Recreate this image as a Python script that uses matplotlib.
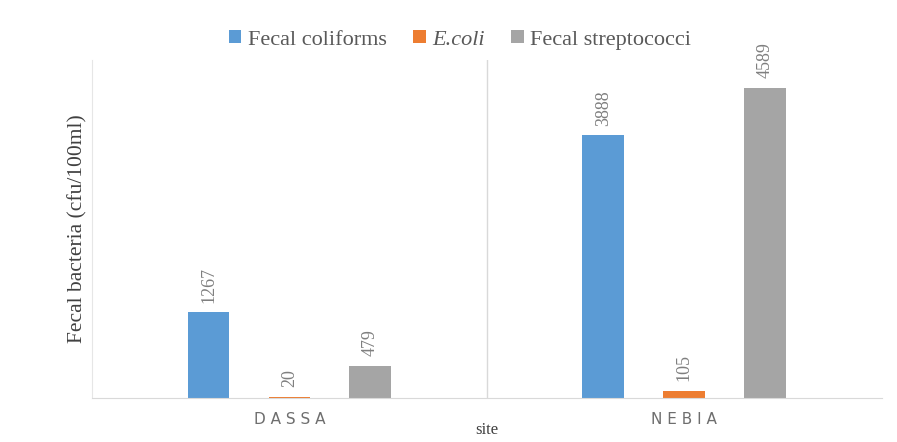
import numpy as np
import matplotlib.pyplot as plt

# data
sites = ['DASSA', 'NEBIA']
fecal_coliforms = [1267, 3888]
e_coli = [20, 105]
fecal_strep = [479, 4589]

series = [('Fecal coliforms', fecal_coliforms, '#5B9BD5'),
          ('E.coli', e_coli, '#ED7D31'),
          ('Fecal streptococci', fecal_strep, '#A5A5A5')]

serif = ['Liberation Serif', 'DejaVu Serif']
label_grey = '#7F7F7F'

fig = plt.figure(figsize=(8.97, 4.42), dpi=100)
ax = fig.add_axes([0.1026, 0.0995, 0.8804, 0.7645])

x = np.arange(len(sites))
offsets = [-0.205, 0.0, 0.205]
width = 0.106

handles = []
for (name, vals, col), off in zip(series, offsets):
    bars = ax.bar(x + off, vals, width=width, color=col, label=name)
    handles.append(bars)
    for b, v in zip(bars, vals):
        ax.annotate(str(v), (b.get_x() + b.get_width() / 2, v),
                    xytext=(0, 7), textcoords='offset points',
                    rotation=90, ha='center', va='bottom',
                    fontsize=13, color=label_grey, family=serif)

ax.set_xlim(-0.5, 1.5)
ax.set_ylim(0, 5000)
ax.axvline(0.5, color='#D9D9D9', lw=1)

for s in ['top', 'right']:
    ax.spines[s].set_visible(False)
ax.spines['left'].set_color('#E6E6E6')
ax.spines['bottom'].set_color('#D9D9D9')
ax.set_yticks([])
ax.set_xticks(x)
ax.set_xticklabels([' '.join(s) for s in sites], fontsize=11,
                   color='#6E6E6E', family='DejaVu Sans')
ax.tick_params(axis='x', length=0, pad=10)

ax.set_ylabel('Fecal bacteria (cfu/100ml)', fontsize=15.5, family=serif,
              color='#404040', labelpad=3)
fig.text(0.543, 0.008, 'site', fontsize=12, family=serif, color='#404040',
         ha='center', va='bottom')

leg = fig.legend(handles=handles, labels=[s[0] for s in series],
                 loc='center', bbox_to_anchor=(0.513, 0.91), ncol=3,
                 frameon=False, handlelength=0.55, handleheight=0.55,
                 handletextpad=0.3, columnspacing=1.2,
                 prop={'family': serif, 'size': 16})
for t in leg.get_texts():
    t.set_color('#595959')
leg.get_texts()[1].set_fontstyle('italic')

fig.savefig('out.png', dpi=100)
